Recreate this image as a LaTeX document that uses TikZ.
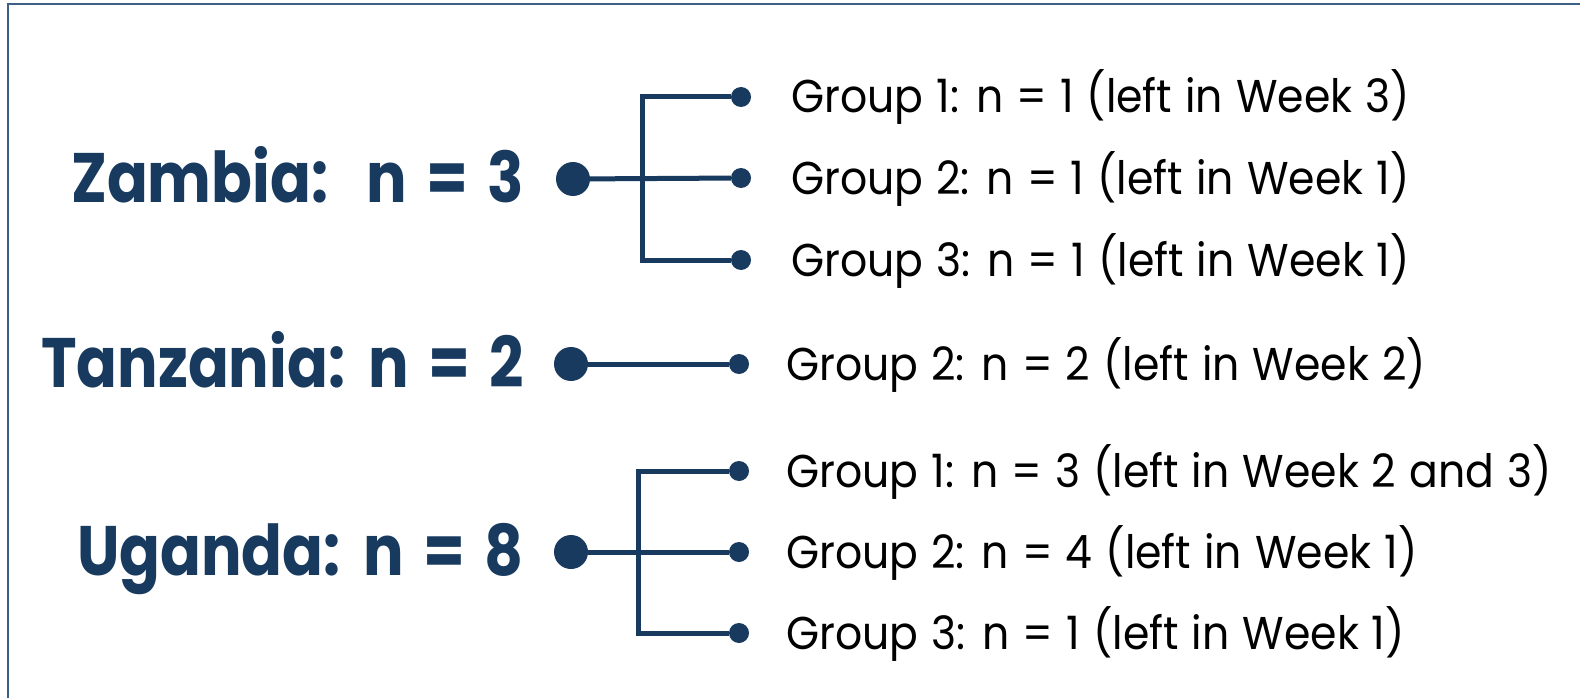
\documentclass[tikz,border=0pt]{standalone}
\usepackage{fontspec}
\setmainfont{Poppins}
\newfontfamily\bigfont[FakeStretch=0.86,WordSpace=1.5]{Poppins Bold}
\newfontfamily\grpfont[FakeStretch=0.925,WordSpace=1.15]{Poppins}
\definecolor{navy}{HTML}{173A5E}
\definecolor{framec}{HTML}{3B5F85}
\begin{document}
\begin{tikzpicture}[x=1pt,y=-1pt,
  country/.style={anchor=base east, inner sep=0pt, text=navy, font=\bigfont\fontsize{70}{70}\selectfont},
  grp/.style={anchor=base west, inner sep=0pt, text=black, font=\grpfont\fontsize{46}{46}\selectfont},
  bigdot/.style={circle, fill=navy, inner sep=0pt, minimum size=34pt},
  smalldot/.style={circle, fill=navy, inner sep=0pt, minimum size=20pt},
  conn/.style={draw=navy, line width=5pt}]
\useasboundingbox (0,0) rectangle (1580,698);
\fill[white] (0,0) rectangle (1580,698);
\coordinate (ftl) at (8,4);
\coordinate (fbl) at (8,698);
\coordinate (ftr) at (1580,4);
\draw[framec, line width=1.5pt] (fbl) -- (ftl) -- (ftr);

% Zambia
\node[country] (zl) at (524,202) {Zambia:\ \ n = 3};
\node[bigdot] (zd) at (573,179) {};
\node[smalldot] (z1) at (741,97) {};
\node[smalldot] (z2) at (741,178) {};
\node[smalldot] (z3) at (741,260) {};
\coordinate (zb) at (642,179);
\draw[conn] (zd) -- (z2);
\draw[conn] (z1) -| (zb) |- (z3);
\node[grp] (zt1) at (791,113) {Group 1: n = 1 (left in Week 3)};
\node[grp] (zt2) at (791,194) {Group 2: n = 1 (left in Week 1)};
\node[grp] (zt3) at (791,276) {Group 3: n = 1 (left in Week 1)};

% Tanzania
\node[country] (tl) at (524,387) {Tanzania: n = 2};
\node[bigdot] (td) at (571,364) {};
\node[smalldot] (t1) at (739,364) {};
\draw[conn] (td) -- (t1);
\node[grp] (tt1) at (786,380) {Group 2: n = 2 (left in Week 2)};

% Uganda
\node[country] (ul) at (524,575) {Uganda: n = 8};
\node[bigdot] (ud) at (571,552) {};
\node[smalldot] (u1) at (739,471) {};
\node[smalldot] (u2) at (739,552) {};
\node[smalldot] (u3) at (739,633) {};
\coordinate (ub) at (638,552);
\draw[conn] (ud) -- (u2);
\draw[conn] (u1) -| (ub) |- (u3);
\node[grp] (ut1) at (786,487) {Group 1: n = 3 (left in Week 2 and 3)};
\node[grp] (ut2) at (786,568) {Group 2: n = 4 (left in Week 1)};
\node[grp] (ut3) at (786,649) {Group 3: n = 1 (left in Week 1)};
\end{tikzpicture}
\end{document}
